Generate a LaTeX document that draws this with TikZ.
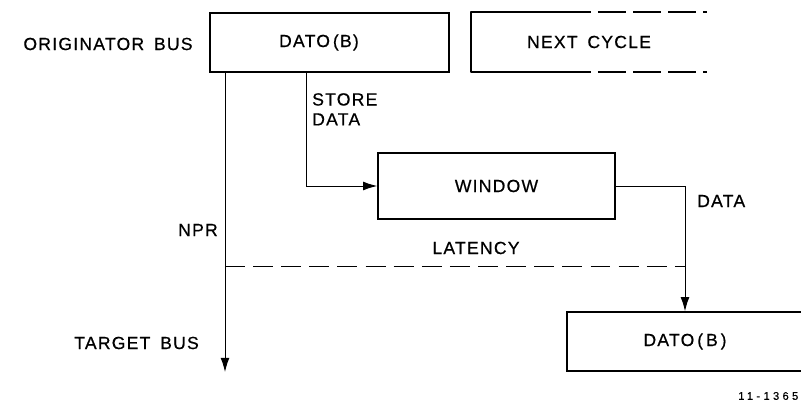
\documentclass[tikz,border=0pt]{standalone}
\usepackage{fontspec}
\newfontfamily\lblfont[LetterSpace=7, WordSpace=1.6, FakeBold=0.6]{Liberation Sans}
\newfontfamily\fignofont[LetterSpace=30, FakeBold=0.6]{Liberation Sans}
\usetikzlibrary{arrows.meta}
\usetikzlibrary{positioning}

\begin{document}
\begin{tikzpicture} [
        x = 0.03cm,
        y = -0.03cm,
        every node/.style = {
          align = left,
          inner sep = 0pt,
          font = \fontsize{15}{17}\selectfont\lblfont,
        },
        busbox/.style = {
          draw,
          line width = 1.3pt,
          minimum width = 7.17cm,
          minimum height = 1.77cm,
        },
        boxline/.style = {
          draw,
          line width = 1.3pt,
          line join = round,
        },
        conn/.style = {
          draw,
          line width = 0.8pt,
        },
        flow/.style = {
          conn,
          -{Latex[length = 12pt, width = 7.5pt]},
        },
        latline/.style = {
          conn,
          dash pattern = on 17pt off 7pt,
        },
      ]
    \useasboundingbox (0,0) rectangle (801,405);

    % boxes
    \node [busbox] (origBox) at (329.5,42.5) {\kern-1.2em DATO\,(B)};
    \node [minimum width = 7.08cm, minimum height = 1.8cm] (nextCyc) at (589,42) {NEXT CYCLE};
    \node [busbox, minimum width = 7.11cm, minimum height = 1.98cm] (window) at (496.5,186) {WINDOW};
    \node [busbox, minimum width = 7.08cm] (tgtBox) at (685,341.5) {DATO\,(\,B\,)};

    % open box of the next cycle
    \draw [boxline] ([xshift = 2.76cm]nextCyc.north west) -- (nextCyc.north west) -- (nextCyc.south west) -- ([xshift = 2.76cm]nextCyc.south west);
    \draw [boxline, dash pattern = on 24pt off 6pt] ([xshift = 2.76cm]nextCyc.north west) -- (nextCyc.north east);
    \draw [boxline, dash pattern = on 24pt off 6pt] ([xshift = 2.76cm]nextCyc.south west) -- (nextCyc.south east);

    % textboxes
    \node (origLbl) at (108,44) {ORIGINATOR BUS};
    \node (tgtLbl) [anchor = east] at (199,343) {TARGET BUS};
    \node (store) [anchor = north west] at (312,93) {STORE\\DATA};
    \node (nprLbl) [anchor = east] at (218,230) {NPR};
    \node (dataLbl) [anchor = west] at (697,201) {DATA};
    \node (latLbl) at (476,248) {LATENCY};
    \node (figNo) [anchor = west, font = \fontsize{9.5}{11}\selectfont\fignofont] at (738,396) {11-1365};

    \coordinate (npr) at (225,372);
    \coordinate (latency) at (0,266);

    \draw [flow] (origBox.south -| npr) -- (npr);
    \draw [flow] ([xshift = 2.91cm]origBox.south west) |- (window.west);
    \draw [flow] (window.east) -| (tgtBox.north);
    \draw [latline] (latency -| npr) -- (latency -| tgtBox.north);
  \end{tikzpicture}
\end{document}
